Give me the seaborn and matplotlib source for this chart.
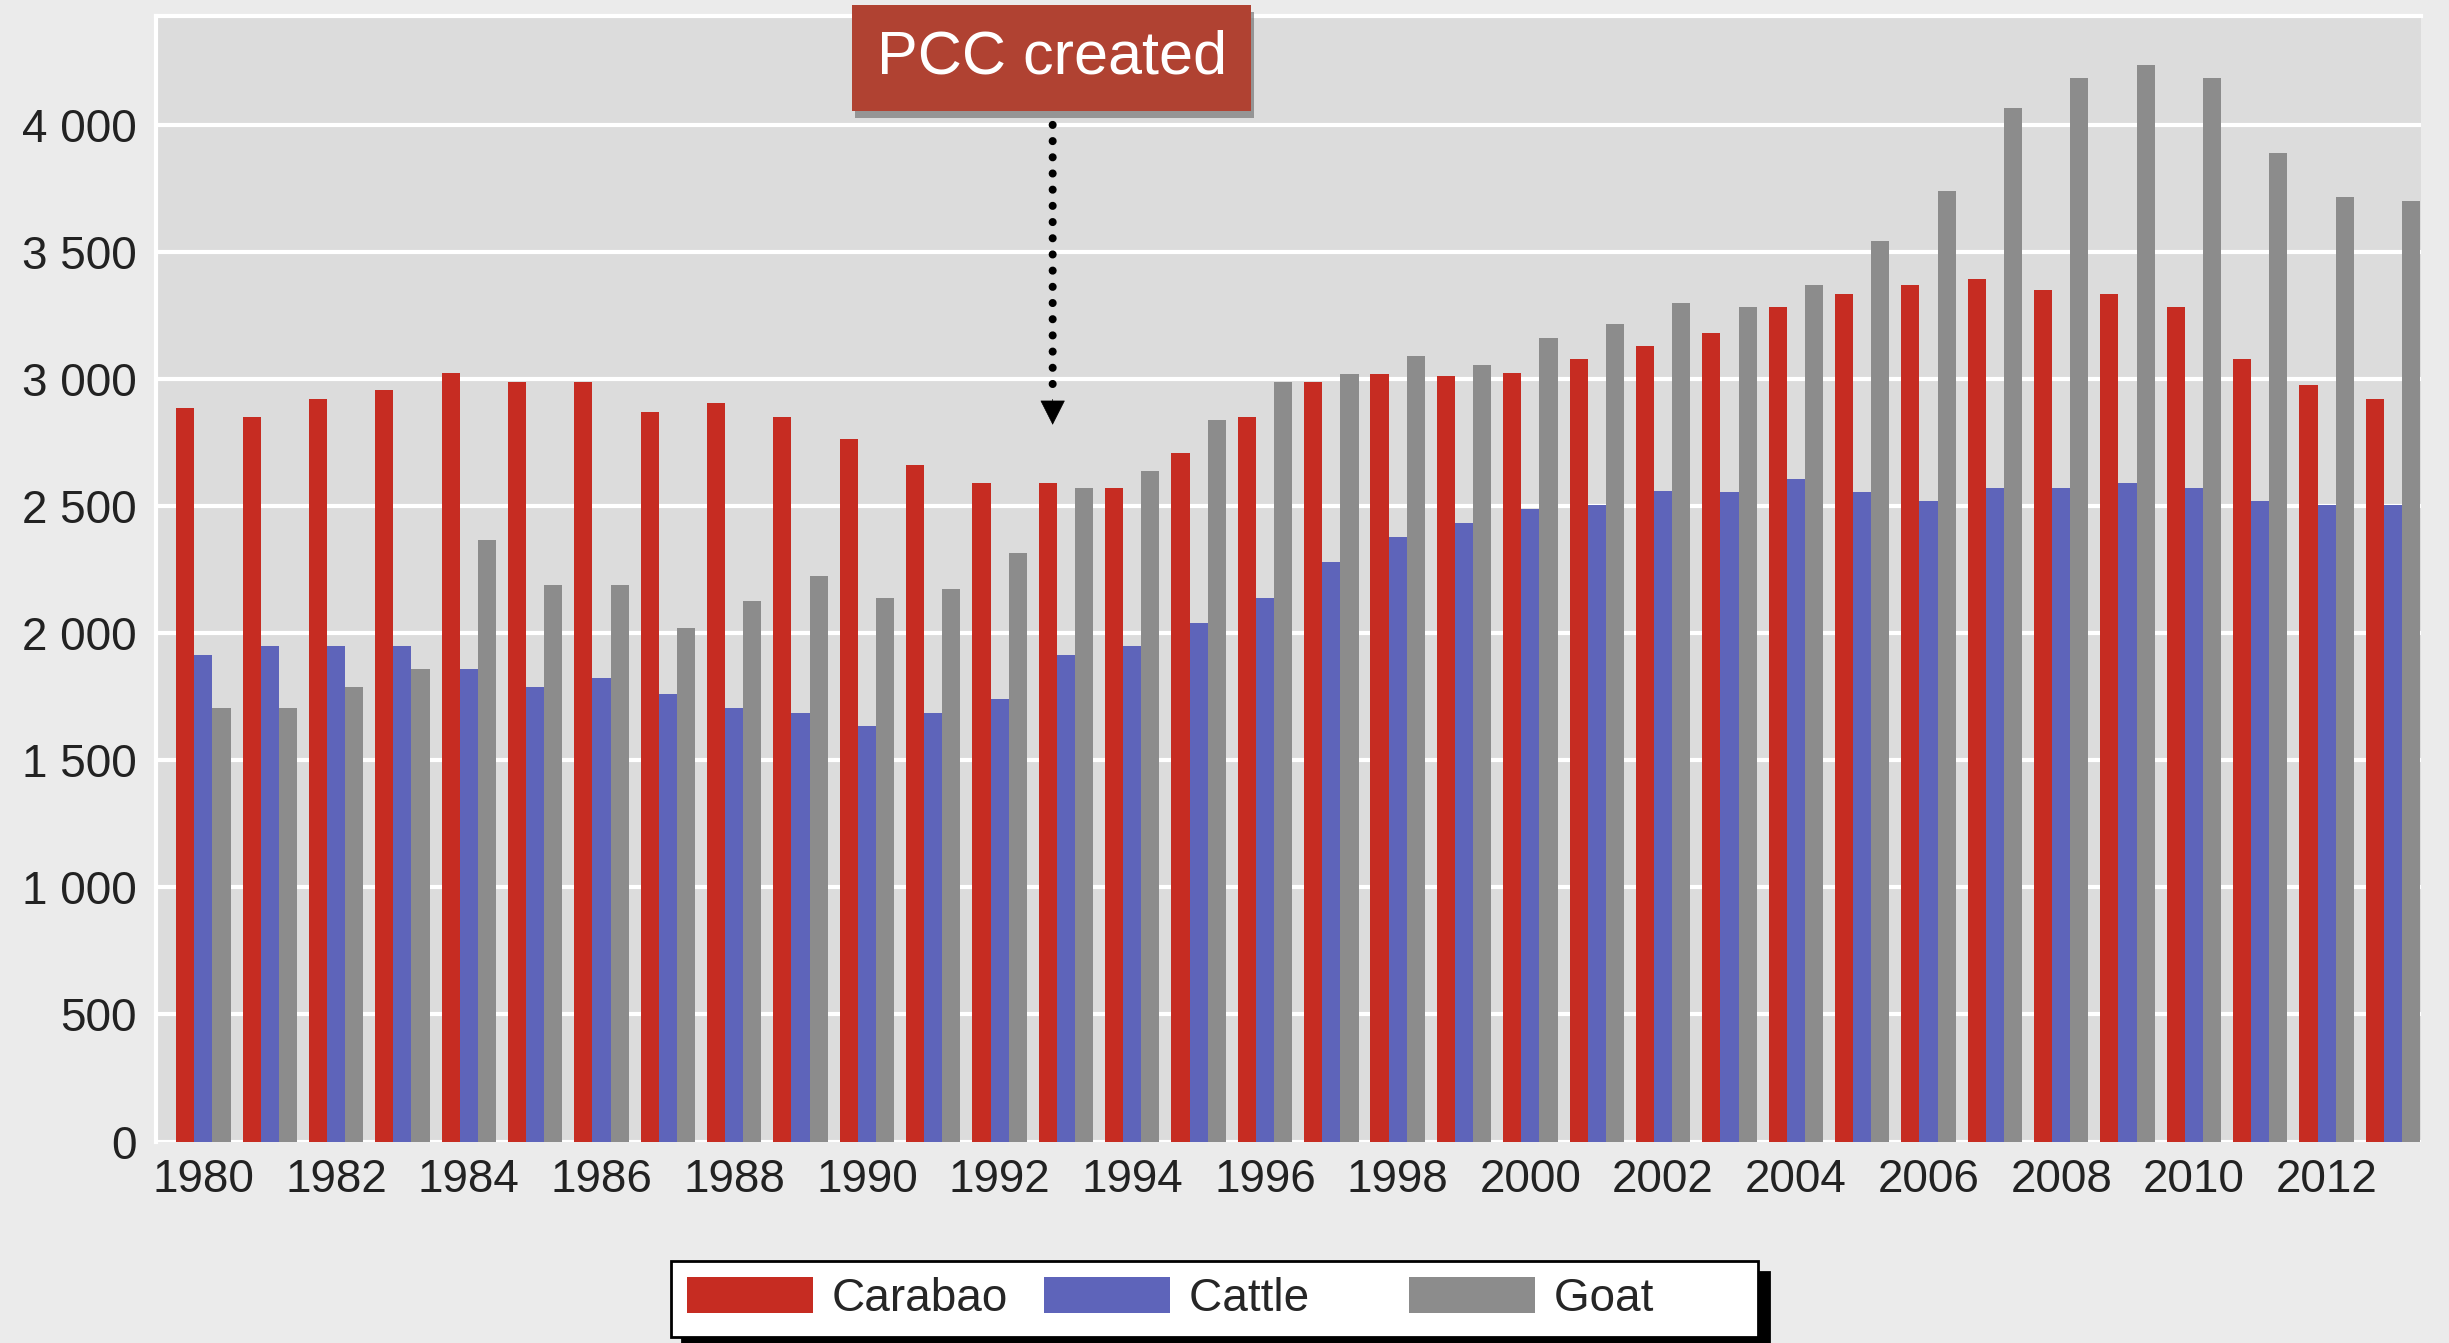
"""
Carabao, cattle and goat inventory, 1980-2013, with PCC marker.
"""
import pandas as pd
import seaborn as sns
import matplotlib.pyplot as plt
import matplotlib.patheffects as pe
from matplotlib.ticker import FuncFormatter

# --- data ---
years = list(range(1980, 2014))
animals = ["Carabao", "Cattle", "Goat"]
carabao = [2885, 2850, 2920, 2955, 3025, 2990, 2990, 2870, 2905, 2850,
           2765, 2660, 2590, 2590, 2570, 2710, 2850, 2990, 3020, 3010,
           3025, 3080, 3130, 3180, 3285, 3335, 3370, 3395, 3350, 3335,
           3285, 3080, 2975, 2920]
cattle = [1915, 1950, 1950, 1950, 1860, 1790, 1825, 1760, 1705, 1685,
          1635, 1685, 1740, 1915, 1950, 2040, 2140, 2280, 2380, 2435,
          2490, 2505, 2560, 2555, 2605, 2555, 2520, 2570, 2570, 2590,
          2570, 2520, 2505, 2505]
goat = [1705, 1705, 1790, 1860, 2365, 2190, 2190, 2020, 2125, 2225,
        2140, 2175, 2315, 2570, 2640, 2840, 2990, 3020, 3090, 3055,
        3160, 3215, 3300, 3285, 3370, 3545, 3740, 4065, 4185, 4235,
        4185, 3890, 3715, 3700]
year_labels = [str(y) if y % 2 == 0 else "" for y in years]
colors = ["#c62c22", "#5e64ba", "#8c8c8c"]

df = pd.DataFrame({
    "year": years * 3,
    "animal": [a for a in animals for _ in years],
    "value": carabao + cattle + goat,
})

sns.set_style("white")
plt.rcParams["font.family"] = ["Liberation Sans", "DejaVu Sans"]
plt.rcParams["font.size"] = 33

fig = plt.figure(figsize=(24.49, 13.43), dpi=100, facecolor="#ebebeb")
ax = fig.add_axes([0.0638, 0.150, 0.9247, 0.8384])
ax.set_facecolor("#dcdcdc")

sns.barplot(data=df, x="year", y="value", hue="animal", hue_order=animals,
            palette=colors, saturation=1, width=0.82, linewidth=0,
            ax=ax, zorder=2)

ax.set_xlim(-0.71, 33.42)
ax.set_ylim(0, 4430)
ax.set_yticks(range(0, 4001, 500))
ax.yaxis.set_major_formatter(FuncFormatter(lambda v, p: f"{int(v):,}".replace(",", " ")))
ax.set_xticks(range(len(years)))
ax.set_xticklabels(year_labels)
ax.tick_params(axis="both", length=0, colors="#222222", labelsize=33)
ax.tick_params(axis="y", pad=14)
ax.tick_params(axis="x", pad=12)
ax.set_xlabel("")
ax.set_ylabel("")
ax.grid(axis="y", color="white", lw=3, zorder=1)
ax.set_axisbelow(True)
for side in ["right", "bottom"]:
    ax.spines[side].set_visible(False)
for side in ["top", "left"]:
    ax.spines[side].set_color("white")
    ax.spines[side].set_linewidth(3)

# legend at the bottom, padded labels so the columns come out even
sns.move_legend(ax, "center", bbox_to_anchor=(0.496, 0.033),
                bbox_transform=fig.transFigure, ncol=3, title=None,
                frameon=True, fancybox=False, framealpha=1,
                facecolor="white", edgecolor="black", fontsize=33,
                handlelength=2.75, handleheight=0.85, columnspacing=0.8,
                handletextpad=0.4, borderpad=0.35,
                shadow={"ox": 8, "oy": -8, "facecolor": "black",
                        "edgecolor": "black", "alpha": 1})
leg = ax.get_legend()
leg.get_frame().set_linewidth(2)
for t, lab in zip(leg.get_texts(), ["Carabao", "Cattle     ", "Goat       "]):
    t.set_text(lab)

# PCC annotation
box = fig.text(0.4295, 0.957, "PCC created", color="white", fontsize=44,
               ha="center", va="center",
               bbox=dict(boxstyle="square,pad=0.4", facecolor="#b04232",
                         edgecolor="none"))
box.get_bbox_patch().set_path_effects([
    pe.SimplePatchShadow(offset=(2, -5), shadow_rgbFace="#777777", alpha=0.7),
    pe.Normal()])

ax.annotate("", xy=(12.8, 2920), xytext=(12.8, 4000),
            arrowprops=dict(arrowstyle="-", color="black", lw=5.8,
                            linestyle=(0, (0.01, 2.0)), capstyle="round",
                            shrinkA=0, shrinkB=0))
ax.annotate("", xy=(12.8, 2820), xytext=(12.8, 2920),
            arrowprops=dict(arrowstyle="-|>,head_length=0.83,head_width=0.42",
                            color="black", lw=0.5, mutation_scale=20,
                            shrinkA=0, shrinkB=0))

fig.savefig("out.png", dpi=100, facecolor=fig.get_facecolor())
